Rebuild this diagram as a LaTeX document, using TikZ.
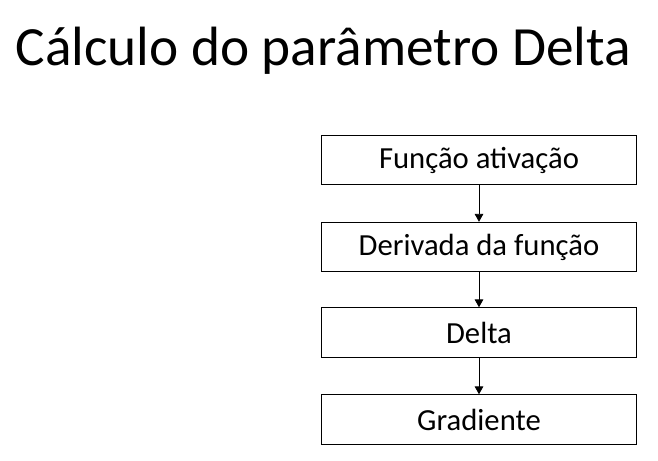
\documentclass[tikz,border=0pt]{standalone}
\usepackage{fontspec}
\setmainfont{Carlito}
\usetikzlibrary{arrows.meta}
\begin{document}
\begin{tikzpicture}[x=0.75pt,y=-0.75pt,
    etapa/.style={draw,line width=0.8pt,minimum width=236pt,minimum height=37pt,
        inner sep=0pt,font=\fontsize{23}{27}\selectfont},
    seta/.style={-{Triangle[width=6.5pt,length=6pt]},line width=0.7pt}]
        \useasboundingbox (0,0) rectangle (658,461);

        \node[anchor=base west,inner sep=0pt,font=\fontsize{41.5}{50}\selectfont] (titulo) at (15.5,65) {Cálculo do parâmetro Delta};

        \node[etapa] (ativacao) at (479,160) {Função ativação};
        \node[etapa] (derivada) at (479,247) {Derivada da função};
        \node[etapa] (delta) at (479,332.5) {Delta};
        \node[etapa] (gradiente) at (479,419.5) {Gradiente};

        \draw[seta] (ativacao) -- (derivada);
        \draw[seta] (derivada) -- (delta);
        \draw[seta] (delta) -- (gradiente);

    \end{tikzpicture}
\end{document}
